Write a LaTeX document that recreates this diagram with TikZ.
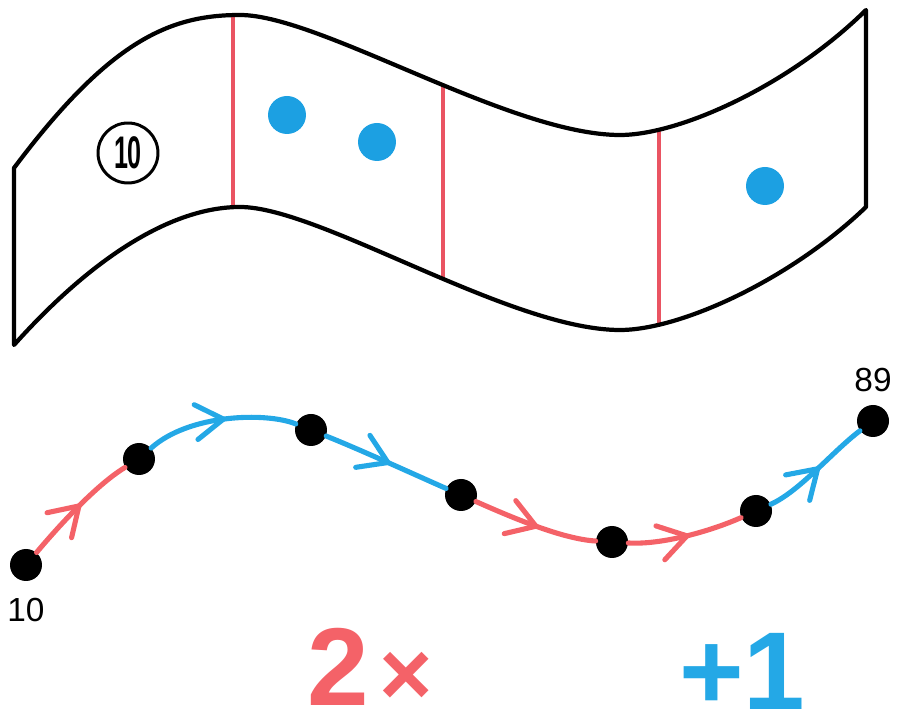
\documentclass[tikz,border=0pt]{standalone}
\usepackage{fontspec}
\setmainfont{Liberation Sans}
\usetikzlibrary{arrows.meta,decorations.markings,positioning}

\definecolor{stripred}{RGB}{234,84,98}
\definecolor{dotblue}{RGB}{28,160,226}
\definecolor{legred}{RGB}{244,98,104}
\definecolor{legblue}{RGB}{36,168,230}

% outline of the paper strip (pixel units)
\newcommand{\stripoutline}{(14,168) .. controls (110,40) and (170,15) .. (240,15)
  .. controls (320,15) and (510,135) .. (620,135)
  .. controls (680,135) and (790,85) .. (866,10) -- (866,207)
  .. controls (790,280) and (680,330) .. (620,330)
  .. controls (510,330) and (320,207) .. (240,207)
  .. controls (170,207) and (90,260) .. (14,345) -- cycle}

\begin{document}
\begin{tikzpicture}[
  x=0.02cm, y=-0.02cm,
  strip/.style={line width=2.4pt,line join=round},
  fold/.style={stripred,line width=1.8pt},
  counter/.style={circle,fill=dotblue,inner sep=0pt,minimum size=0.76cm},
  circled/.style={circle,draw,line width=1.7pt,inner sep=0pt,minimum size=1.2cm,
    font=\fontsize{26}{26}\selectfont\bfseries},
  dot/.style={circle,fill=black,inner sep=0pt,minimum size=0.64cm},
  leg/.style={line width=2.9pt,line cap=round,postaction={decorate},
    decoration={markings,mark=at position 0.55 with
      {\arrow{Straight Barb[length=5.5mm,width=7mm,line cap=round]}}}},
  double/.style={leg,legred},
  addone/.style={leg,legblue},
  numlabel/.style={inner sep=0pt,font=\fontsize{19}{19}\selectfont},
  bigsign/.style={inner sep=0pt,text depth=0pt,font=\fontsize{63}{63}\selectfont\bfseries}
]
\useasboundingbox (0,0) rectangle (900,715);

% strip with its folds
\begin{scope}
  \clip \stripoutline;
  \foreach \xf in {233,443,659}
    \draw[fold] (\xf,0) -- (\xf,400);
\end{scope}
\draw[strip] \stripoutline;

\node[circled] (start) at (128,153) {\scalebox{0.55}[1]{10}};
\node[counter] (c1) at (287,115) {};
\node[counter] (c2) at (377,142) {};
\node[counter] (c3) at (765,186) {};

% the path of moves
\node[dot] (n0) at (26,565) {};
\node[dot] (n1) at (139,459) {};
\node[dot] (n2) at (311,430) {};
\node[dot] (n3) at (461,495) {};
\node[dot] (n4) at (612,542) {};
\node[dot] (n5) at (756,511) {};
\node[dot] (n6) at (873,421) {};

\draw[double] (n0) .. controls +(32,-38) and +(-43,26) .. (n1);
\draw[addone] (n1) .. controls +(50,-45) and +(-45,-18) .. (n2);
\draw[addone] (n2) .. controls +(50,20) and +(-50,-22) .. (n3);
\draw[double] (n3) .. controls +(50,22) and +(-50,-3) .. (n4);
\draw[double] (n4) .. controls +(50,3) and +(-45,20) .. (n5);
\draw[addone] (n5) .. controls +(44,-20) and +(-40,30) .. (n6);

\node[numlabel,below=0.32cm of n0] (from) {10};
\node[numlabel,above=0.24cm of n6] (to) {89};

\node[bigsign,legred,anchor=base west] (times) at (307,706)
  {2\hspace{0.1em}{\fontsize{52}{52}\selectfont ×}};
\node[bigsign,legblue,anchor=base west] (plus) at (679,710) {+1};
\end{tikzpicture}
\end{document}
